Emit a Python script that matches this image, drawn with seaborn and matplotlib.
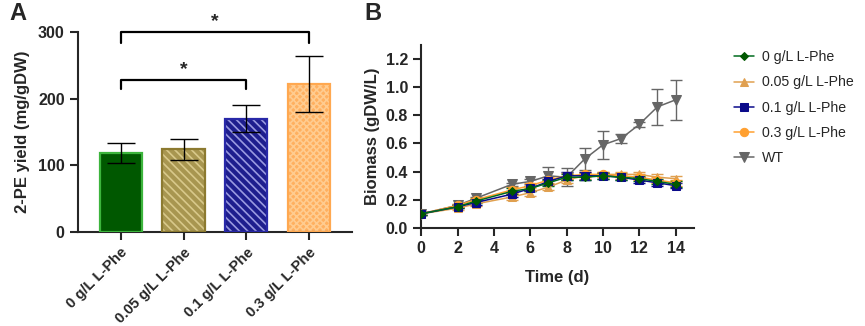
import matplotlib
matplotlib.use("Agg")
import matplotlib.pyplot as plt
from matplotlib.patches import Rectangle
import numpy as np
import pandas as pd
import seaborn as sns

# Panel A data
groups = ["0 g/L L-Phe", "0.05 g/L L-Phe", "0.1 g/L L-Phe", "0.3 g/L L-Phe"]
yield_mean = [118, 124, 170, 222]
yield_sd = [15, 16, 20, 42]

# Panel B data
time = [0, 2, 3, 5, 6, 7, 8, 9, 10, 11, 12, 13, 14]
bio_0 = [0.10, 0.15, 0.19, 0.26, 0.28, 0.32, 0.36, 0.36, 0.37, 0.36, 0.35, 0.33, 0.31]
bio_005 = [0.10, 0.14, 0.17, 0.22, 0.25, 0.29, 0.34, 0.37, 0.38, 0.38, 0.38, 0.36, 0.35]
bio_01 = [0.10, 0.15, 0.18, 0.24, 0.28, 0.33, 0.37, 0.37, 0.37, 0.36, 0.34, 0.32, 0.30]
bio_03 = [0.10, 0.16, 0.20, 0.27, 0.30, 0.34, 0.37, 0.38, 0.38, 0.37, 0.36, 0.34, 0.32]
bio_wt = [0.10, 0.16, 0.21, 0.31, 0.33, 0.37, 0.36, 0.49, 0.59, 0.635, 0.735, 0.86, 0.91]
err_0 = [0.01, 0.01, 0.015, 0.02, 0.02, 0.02, 0.02, 0.02, 0.02, 0.02, 0.02, 0.02, 0.02]
err_005 = [0.01, 0.01, 0.015, 0.02, 0.02, 0.02, 0.02, 0.02, 0.02, 0.02, 0.02, 0.02, 0.02]
err_01 = [0.01, 0.01, 0.015, 0.02, 0.02, 0.02, 0.03, 0.03, 0.02, 0.02, 0.02, 0.02, 0.02]
err_03 = [0.01, 0.01, 0.015, 0.02, 0.02, 0.02, 0.02, 0.02, 0.02, 0.02, 0.02, 0.02, 0.02]
err_wt = [0.01, 0.01, 0.01, 0.01, 0.02, 0.065, 0.065, 0.08, 0.10, 0.03, 0.02, 0.13, 0.14]
series_labels = ["0 g/L L-Phe", "0.05 g/L L-Phe", "0.1 g/L L-Phe", "0.3 g/L L-Phe", "WT"]

sns.set_style("ticks")
plt.rcParams["font.family"] = ["Liberation Sans", "DejaVu Sans"]
plt.rcParams["hatch.linewidth"] = 1.2

fig = plt.figure(figsize=(8.65, 3.26), dpi=100)
axA = fig.add_axes([0.090, 0.288, 0.317, 0.614])
axB = fig.add_axes([0.487, 0.301, 0.315, 0.561])

# --- A: bar chart
fills = ["#005800", "#a89650", "#1e1e8e", "#ffb060"]
hatch_cols = ["#005800", "#d8c88a", "#9a9ae0", "#ffcc90"]
edges = ["#3cb43c", "#8c7a30", "#2828a8", "#ffa850"]
hatches = [None, "\\\\\\\\", "\\\\\\\\", "xxxxx"]

df_a = pd.DataFrame({"group": groups, "yield": yield_mean})
sns.barplot(data=df_a, x="group", y="yield", ax=axA, width=0.67,
            palette=fills, hue="group", legend=False, linewidth=0)
for p, fc, hc, ec, h in zip(axA.patches, fills, hatch_cols, edges, hatches):
    p.set_facecolor(fc)
    p.set_edgecolor(hc)
    p.set_linewidth(0)
    if h:
        p.set_hatch(h)
    axA.add_patch(Rectangle(p.get_xy(), p.get_width(), p.get_height(),
                            fill=False, edgecolor=ec, linewidth=1.6, zorder=3))
axA.errorbar(range(len(groups)), yield_mean, yerr=yield_sd, fmt="none",
             ecolor="black", elinewidth=1.0, capsize=10, capthick=1.0, zorder=4)

# significance brackets
def bracket(ax, x1, x2, y, h):
    ax.plot([x1, x1, x2, x2], [y - h, y, y, y - h], color="black", lw=1.6,
            clip_on=False)
    ax.text((x1 + x2) / 2, y + 3, "*", ha="center", va="bottom",
            fontsize=14, fontweight="bold")

bracket(axA, 0, 3, 300, 16)
bracket(axA, 0, 2, 228, 14)

axA.set_xlim(-0.68, 3.68)
axA.set_ylim(0, 300)
axA.set_yticks([0, 100, 200, 300])
axA.set_xlabel("")
axA.set_ylabel("2-PE yield (mg/gDW)", fontsize=12, fontweight="bold", labelpad=6)
axA.tick_params(axis="both", width=1.5, length=6, labelsize=11.5)
axA.tick_params(axis="x", labelsize=10.5)
plt.setp(axA.get_xticklabels(), rotation=45, ha="right",
         rotation_mode="anchor", fontweight="bold")
plt.setp(axA.get_yticklabels(), fontweight="bold")
sns.despine(ax=axA)
for s in ["left", "bottom"]:
    axA.spines[s].set_linewidth(1.5)

# --- B: growth curves
all_series = [bio_0, bio_005, bio_01, bio_03, bio_wt]
all_err = [err_0, err_005, err_01, err_03, err_wt]
line_cols = ["#006b1e", "#e0a050", "#0a0a8a", "#ffa030", "#666666"]
mk_cols = ["#005800", "#e0a050", "#0a0a8a", "#ffa030", "#666666"]
markers = ["D", "^", "s", "o", "v"]
msizes = [4.5, 6, 6, 6, 7]
draw_order = [4, 1, 3, 2, 0]

for i in draw_order:
    axB.errorbar(time, all_series[i], yerr=all_err[i], fmt="none",
                 ecolor=line_cols[i], elinewidth=1.0, capsize=4, capthick=1.0,
                 zorder=2)
    sns.lineplot(x=time, y=all_series[i], ax=axB, color=line_cols[i],
                 marker=markers[i], markersize=msizes[i],
                 markerfacecolor=mk_cols[i], markeredgecolor=mk_cols[i],
                 linewidth=1.1, label=series_labels[i], zorder=3)

handles, labels = axB.get_legend_handles_labels()
order = [labels.index(l) for l in series_labels]
axB.legend([handles[k] for k in order], series_labels, loc="upper left",
           bbox_to_anchor=(1.1, 1.04), frameon=False, fontsize=10.2,
           handlelength=1.4, labelspacing=0.78, handletextpad=0.6)

axB.set_xlim(0, 15)
axB.set_ylim(0, 1.3)
axB.set_xticks(range(0, 15, 2))
axB.set_yticks(np.arange(0, 1.21, 0.2))
axB.set_yticklabels([f"{v:.1f}" for v in np.arange(0, 1.21, 0.2)])
axB.set_xlabel("Time (d)", fontsize=12, fontweight="bold", labelpad=10)
axB.set_ylabel("Biomass (gDW/L)", fontsize=12, fontweight="bold", labelpad=4)
axB.tick_params(axis="both", width=1.5, length=6, labelsize=11.5)
plt.setp(axB.get_xticklabels(), fontweight="bold")
plt.setp(axB.get_yticklabels(), fontweight="bold")
sns.despine(ax=axB)
for s in ["left", "bottom"]:
    axB.spines[s].set_linewidth(1.5)

fig.text(0.011, 0.995, "A", fontsize=17, fontweight="bold", va="top")
fig.text(0.421, 0.995, "B", fontsize=17, fontweight="bold", va="top")

fig.savefig("out.png", dpi=100)
